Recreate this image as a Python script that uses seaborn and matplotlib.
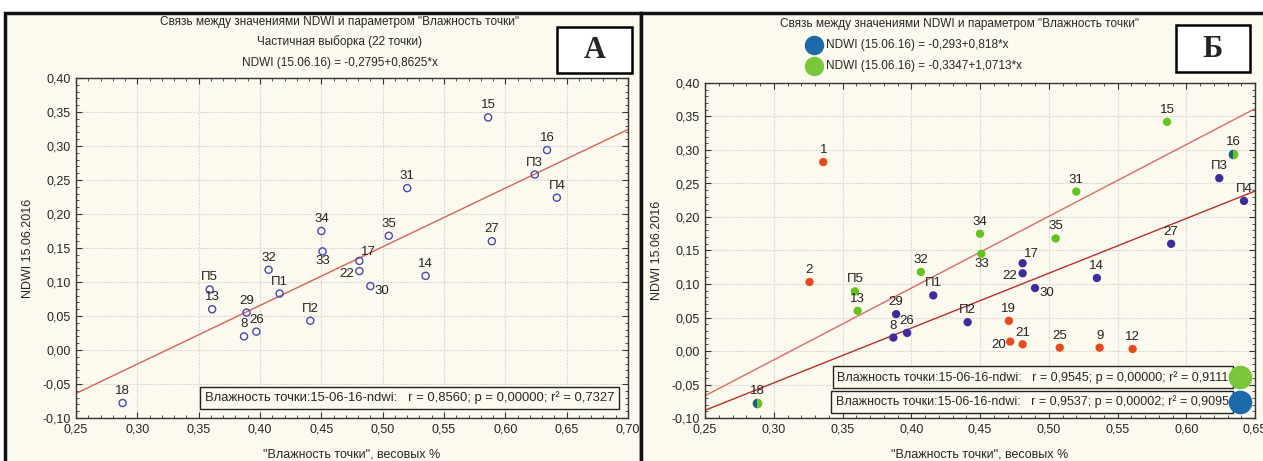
import matplotlib
matplotlib.use("Agg")
import matplotlib.pyplot as plt
from matplotlib.lines import Line2D
from matplotlib.patches import Rectangle
from matplotlib.ticker import MultipleLocator, FuncFormatter
import numpy as np
import pandas as pd
import seaborn as sns

sns.set_style("ticks")
plt.rcParams['font.family'] = ['Liberation Sans', 'DejaVu Sans']

# ---- data ----
# points shared by both panels (22 points of the partial sample)
labels = ['15', '16', 'П3', 'П4', '31', '34', '35', '27', '33', '32', '17',
          '22', '14', '30', 'П5', '13', '29', '8', '26', 'П1', 'П2', '18']
moisture = [0.586, 0.634, 0.624, 0.642, 0.520, 0.450, 0.505, 0.589, 0.451, 0.407, 0.481,
            0.481, 0.535, 0.490, 0.359, 0.361, 0.389, 0.387, 0.397, 0.416, 0.441, 0.288]
ndwi = [0.342, 0.294, 0.258, 0.224, 0.238, 0.175, 0.168, 0.160, 0.145, 0.118, 0.131,
        0.116, 0.109, 0.094, 0.089, 0.060, 0.055, 0.020, 0.027, 0.083, 0.043, -0.078]

# extra points only in panel Б (excluded, red)
red_labels = ['1', '2', '19', '20', '21', '25', '9', '12']
red_moisture = [0.336, 0.326, 0.471, 0.472, 0.481, 0.508, 0.537, 0.561]
red_ndwi = [0.282, 0.103, 0.045, 0.014, 0.010, 0.005, 0.005, 0.003]

# groups in panel Б
green_labels = ['15', '31', '34', '35', '33', '32', 'П5', '13']
blue_labels = ['П3', 'П4', '27', '17', '22', '14', '30', 'П1', 'П2', '29', '8', '26']
shared_labels = ['16', '18']

# regression coefficients (intercept, slope)
fit_a = (-0.2795, 0.8625)
fit_blue = (-0.293, 0.818)
fit_green = (-0.3347, 1.0713)

title_main = 'Связь между значениями NDWI и параметром "Влажность точки"'
stats_a = 'Влажность точки:15-06-16-ndwi:   r = 0,8560; p = 0,00000; r² = 0,7327'
stats_green = 'Влажность точки:15-06-16-ndwi:   r = 0,9545; p = 0,00000; r² = 0,9111'
stats_blue = 'Влажность точки:15-06-16-ndwi:   r = 0,9537; p = 0,00002; r² = 0,9095'

df = pd.DataFrame({'label': labels, 'x': moisture, 'y': ndwi})
df_red = pd.DataFrame({'label': red_labels, 'x': red_moisture, 'y': red_ndwi})

# label offsets in pixels (default: above the point)
offs_a = {'22': (-13, -12), '30': (11, -14), '33': (0, -19), '17': (9, 0)}
offs_b = {'22': (-13, -12), '30': (12, -14), '33': (0, -19), '17': (9, 0),
          '20': (-12, -12), '21': (0, 2)}

BG = '#fcfaef'
W, H = 1263, 461


def fx(px):
    return px / W


def fy(py):
    return 1 - py / H


fig = plt.figure(figsize=(W / 100, H / 100), dpi=100, facecolor='white')

# panel frames (behind the axes)
for x0, x1 in [(5, 641), (641, 1280)]:
    fig.add_artist(Rectangle((fx(x0), fy(475)), fx(x1) - fx(x0), fy(13) - fy(475),
                             transform=fig.transFigure, facecolor=BG,
                             edgecolor='#111111', linewidth=2.5, zorder=-10))

ax1 = fig.add_axes([fx(76), fy(418), fx(628) - fx(76), fy(78) - fy(418)])
ax2 = fig.add_axes([fx(705), fy(418), fx(1255) - fx(705), fy(83) - fy(418)])

comma = FuncFormatter(lambda v, p: f'{v:.2f}'.replace('.', ','))


def style_axes(ax, xmax):
    ax.set_facecolor(BG)
    ax.set_xlim(0.25, xmax)
    ax.set_ylim(-0.10, 0.40)
    ax.xaxis.set_major_locator(MultipleLocator(0.05))
    ax.xaxis.set_minor_locator(MultipleLocator(0.01))
    ax.yaxis.set_major_locator(MultipleLocator(0.05))
    ax.yaxis.set_minor_locator(MultipleLocator(0.01))
    ax.xaxis.set_major_formatter(comma)
    ax.yaxis.set_major_formatter(comma)
    ax.tick_params(which='both', direction='in', top=True, right=True,
                   labelsize=9, color='#333333', pad=4)
    ax.tick_params(which='major', length=4)
    ax.tick_params(which='minor', length=2.5)
    ax.grid(True, which='major', color='#d9d9d9', linewidth=0.8, linestyle=(0, (2, 1)))
    for s in ax.spines.values():
        s.set_visible(True)
        s.set_color('#333333')
        s.set_linewidth(1.0)
    ax.set_xlabel('"Влажность точки", весовых %', fontsize=9, labelpad=9)
    ax.set_ylabel('NDWI 15.06.2016', fontsize=9, labelpad=6)


def annotate(ax, frame, offs):
    for _, r in frame.iterrows():
        dx, dy = offs.get(r['label'], (0, 3))
        ax.annotate(r['label'], (r['x'], r['y']), xytext=(dx, dy + 3),
                    textcoords='offset pixels', ha='center', va='bottom',
                    fontsize=9.5, color='#222222')


# ---- panel А ----
style_axes(ax1, 0.70)
xs = np.array(ax1.get_xlim())
sns.lineplot(x=xs, y=fit_a[0] + fit_a[1] * xs, ax=ax1, color='#d9605a', linewidth=1.0)
sns.scatterplot(data=df, x='x', y='y', ax=ax1, marker='o', s=26,
                facecolor='none', edgecolor='#4848b4', linewidth=1.0, zorder=3)
annotate(ax1, df, offs_a)
style_axes(ax1, 0.70)
ax1.text(0.975, 0.06, stats_a, transform=ax1.transAxes, ha='right', va='center',
         fontsize=9.4, bbox=dict(boxstyle='square,pad=0.35', facecolor=BG,
                                 edgecolor='#222222', linewidth=1.0))

# ---- panel Б ----
style_axes(ax2, 0.65)
xs = np.array(ax2.get_xlim())
sns.lineplot(x=xs, y=fit_green[0] + fit_green[1] * xs, ax=ax2, color='#dc6a66', linewidth=1.0)
sns.lineplot(x=xs, y=fit_blue[0] + fit_blue[1] * xs, ax=ax2, color='#b8302c', linewidth=1.0)

g = df[df['label'].isin(green_labels)]
b = df[df['label'].isin(blue_labels)]
sh = df[df['label'].isin(shared_labels)]
sns.scatterplot(data=df_red, x='x', y='y', ax=ax2, color='#e84a1c', s=36, edgecolor='none', zorder=3)
sns.scatterplot(data=b, x='x', y='y', ax=ax2, color='#3c2c9c', s=36, edgecolor='none', zorder=3)
sns.scatterplot(data=g, x='x', y='y', ax=ax2, color='#66c21c', s=36, edgecolor='none', zorder=3)
ax2.plot(sh['x'], sh['y'], linestyle='none', marker='o', markersize=7, fillstyle='left',
         markerfacecolor='#1f5f78', markerfacecoloralt='#66c21c', markeredgewidth=0, zorder=4)
annotate(ax2, pd.concat([df, df_red]), offs_b)
style_axes(ax2, 0.65)

ax2.text(0.952, 0.122, stats_green, transform=ax2.transAxes, ha='right', va='center',
         fontsize=9, bbox=dict(boxstyle='square,pad=0.35', facecolor=BG,
                               edgecolor='#222222', linewidth=1.0))
ax2.text(0.952, 0.048, stats_blue, transform=ax2.transAxes, ha='right', va='center',
         fontsize=9, bbox=dict(boxstyle='square,pad=0.35', facecolor=BG,
                               edgecolor='#222222', linewidth=1.0))
ax2.plot([0.972], [0.122], transform=ax2.transAxes, marker='o', markersize=16,
         color='#7cc63c', clip_on=False, zorder=5)
ax2.plot([0.972], [0.048], transform=ax2.transAxes, marker='o', markersize=16,
         color='#1c6aa8', clip_on=False, zorder=5)

# ---- titles ----
fig.text(fx(340), fy(22), title_main, ha='center', va='center', fontsize=8.5)
fig.text(fx(340), fy(42), 'Частичная выборка (22 точки)', ha='center', va='center', fontsize=8.5)
fig.text(fx(340), fy(63), 'NDWI (15.06.16) = -0,2795+0,8625*x', ha='center', va='center', fontsize=8.5)

fig.text(fx(960), fy(24), title_main, ha='center', va='center', fontsize=8.5)
fig.text(fx(826), fy(45), 'NDWI (15.06.16) = -0,293+0,818*x', ha='left', va='center', fontsize=8.5)
fig.text(fx(826), fy(66), 'NDWI (15.06.16) = -0,3347+1,0713*x', ha='left', va='center', fontsize=8.5)
fig.add_artist(Line2D([fx(814)], [fy(45)], marker='o', markersize=13, color='#1c6aa8',
                      transform=fig.transFigure))
fig.add_artist(Line2D([fx(814)], [fy(66)], marker='o', markersize=13, color='#7cc63c',
                      transform=fig.transFigure))

# panel letters
for (x0, y0, x1, y1), letter in [((557, 27, 632, 73), 'А'), ((1176, 25, 1250, 72), 'Б')]:
    fig.add_artist(Rectangle((fx(x0), fy(y1)), fx(x1) - fx(x0), fy(y0) - fy(y1),
                             transform=fig.transFigure, facecolor='white',
                             edgecolor='black', linewidth=1.8, zorder=5))
    fig.text(fx((x0 + x1) / 2), fy((y0 + y1) / 2 + 1), letter, ha='center', va='center',
             fontsize=22, fontweight='bold', family=['Liberation Serif', 'DejaVu Serif'],
             zorder=6)

fig.savefig('out.png', dpi=100, facecolor='white')
